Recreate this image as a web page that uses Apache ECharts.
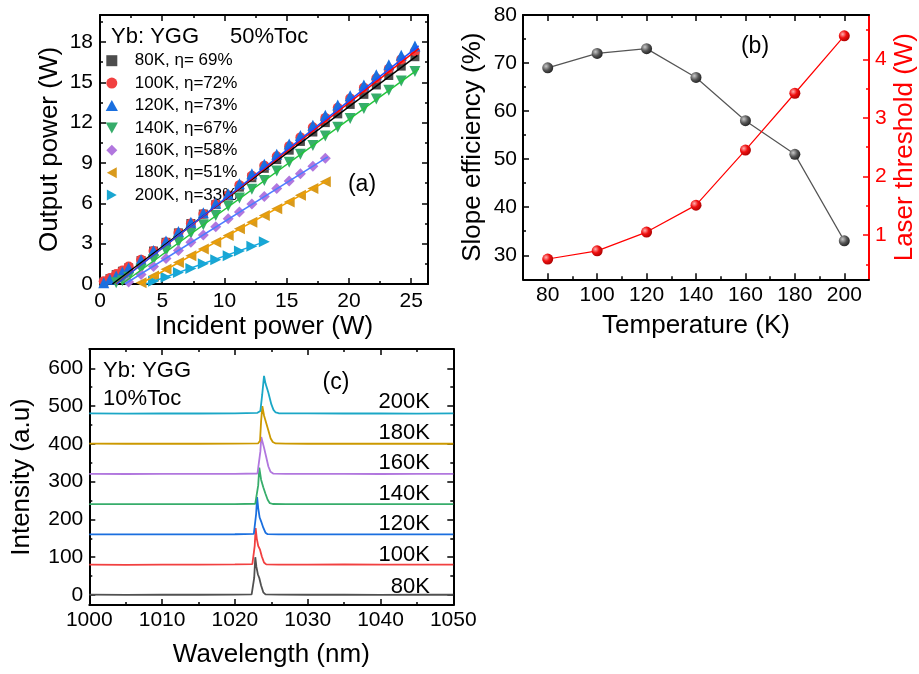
<!DOCTYPE html>
<html><head><meta charset="utf-8">
<script src="https://cdn.jsdelivr.net/npm/echarts@6/dist/echarts.min.js"></script>
<style>html,body{margin:0;padding:0;background:#fff}#c{width:919px;height:674px}</style>
</head><body><div id="c"></div>
<script>
const FONT = '"Liberation Sans", Arial, sans-serif';

// ---------- Panel (a): output power vs incident power ----------
const seriesNamesA = ['80K, η= 69%', '100K, η=72%', '120K, η=73%', '140K, η=67%', '160K, η=58%', '180K, η=51%', '200K, η=33%'];
const inHigh = [0.3,0.8,1.3,1.8,2.3,3.3,4.3,5.3,6.3,7.3,8.3,9.3,10.3,11.2,12.2,13.2,14.2,15.2,16.1,17.1,18.1,19.1,20.1,21.2,22.2,23.2,24.2,25.3];
const out80K  = [0.15,0.4,0.7,0.95,1.2,1.75,2.45,3.1,3.8,4.5,5.2,5.9,6.55,7.2,7.9,8.6,9.25,9.95,10.6,11.3,12.0,12.65,13.35,14.1,14.8,15.5,16.2,16.9];
const out100K = [0.2,0.45,0.75,1.0,1.3,1.8,2.45,3.1,3.8,4.5,5.2,5.95,6.6,7.35,8.05,8.8,9.5,10.25,10.9,11.65,12.35,13.1,13.8,14.6,15.3,16.0,16.7,17.3];
const out120K = [0.1,0.35,0.6,0.9,1.2,1.8,2.5,3.2,3.9,4.6,5.3,6.0,6.7,7.45,8.2,8.9,9.65,10.4,11.05,11.8,12.55,13.3,14.0,14.8,15.55,16.3,17.0,17.7];
const in140K  = [1.3,1.8,2.3,3.3,4.3,5.3,6.3,7.3,8.3,9.3,10.3,11.2,12.2,13.2,14.2,15.2,16.1,17.1,18.1,19.1,20.1,21.2,22.2,23.2,24.2,25.3];
const out140K = [0.1,0.25,0.5,1.1,1.8,2.45,3.1,3.75,4.4,5.1,5.8,6.4,7.05,7.7,8.4,9.05,9.65,10.3,11.0,11.65,12.3,13.05,13.75,14.4,15.1,15.8];
const in160K  = [2.3,3.3,4.3,5.3,6.3,7.3,8.3,9.3,10.3,11.2,12.2,13.2,14.2,15.2,16.1,17.1,18.1];
const out160K = [0.15,0.7,1.3,1.9,2.5,3.1,3.65,4.25,4.85,5.35,5.95,6.5,7.1,7.65,8.2,8.75,9.35];
const in180K  = [3.3,4.3,5.3,6.3,7.3,8.3,9.3,10.3,11.2,12.2,13.2,14.2,15.2,16.1,17.1,18.1];
const out180K = [0.1,0.6,1.1,1.6,2.1,2.6,3.1,3.6,4.1,4.6,5.1,5.6,6.1,6.6,7.1,7.6];
const in200K  = [4.3,5.3,6.3,7.3,8.3,9.3,10.3,11.2,12.2,13.2];
const out200K = [0.2,0.5,0.85,1.15,1.5,1.8,2.1,2.45,2.8,3.15];
// linear fits (endpoints)
const fitX80K = [1.0, 25.5],  fitY80K = [0, 17.0];
const fitX100K = [1.3, 25.6], fitY100K = [0, 17.5];
const fitX120K = [1.35, 25.6], fitY120K = [0, 17.7];
const fitX140K = [1.75, 25.6], fitY140K = [0, 16.0];
const fitX160K = [2.0, 18.3], fitY160K = [0, 9.45];
const fitX180K = [3.2, 18.3], fitY180K = [0, 7.7];
const fitX200K = [3.7, 13.3], fitY200K = [0, 3.17];
const aXTicks = [0,5,10,15,20,25], aXMinor = [2.5,7.5,12.5,17.5,22.5];
const aYTicks = [0,3,6,9,12,15,18], aYMinor = [1.5,4.5,7.5,10.5,13.5,16.5,19.5];

// ---------- Panel (b): slope efficiency & threshold vs temperature ----------
const temperatures = [80,100,120,140,160,180,200];
const slopeEff = [69,72,73,67,58,51,33];
const threshold = [0.59,0.73,1.05,1.51,2.45,3.42,4.40];
const bXTicks = [80,100,120,140,160,180,200], bXMinor = [90,110,130,150,170,190];
const bYTicks = [30,40,50,60,70,80], bYMinor = [35,45,55,65,75];
const bY2Ticks = [1,2,3,4], bY2Minor = [0.5,1.5,2.5,3.5,4.5];

// ---------- Panel (c): emission spectra (offset by 80 per temperature) ----------
const spec80K  = [[1000,0.8],[1005,0.4],[1010,0.9],[1015,0.6],[1020,1.0],[1022.3,1.5],[1022.5,4],[1022.65,45],[1022.8,100],[1022.95,75],[1023.15,55],[1023.35,45],[1023.6,25],[1023.9,7],[1024.2,1.5],[1026,0.8],[1030,0.6],[1035,0.9],[1040,0.5],[1045,0.8],[1050,0.6]];
const spec100K = [[1000,80.5],[1005,79.8],[1010,80.6],[1015,80.2],[1020,80.8],[1022.4,81.5],[1022.6,85],[1022.72,130],[1022.85,177],[1023.0,150],[1023.2,130],[1023.45,120],[1023.7,102],[1024.0,86],[1024.3,81],[1026,80.5],[1030,80.2],[1035,80.7],[1040,80.3],[1045,80.6],[1050,80.2]];
const spec120K = [[1000,160.5],[1005,160.2],[1010,160.6],[1015,160.3],[1020,160.8],[1022.6,161.5],[1022.8,166],[1022.92,215],[1023.05,259],[1023.2,230],[1023.4,205],[1023.6,195],[1023.9,178],[1024.2,165],[1024.5,161],[1026,160.5],[1030,160.3],[1035,160.6],[1040,160.2],[1045,160.5],[1050,160.3]];
const spec140K = [[1000,240.5],[1005,240.2],[1010,240.6],[1015,240.3],[1020,240.7],[1022.8,241.5],[1023.05,246],[1023.2,290],[1023.35,337],[1023.6,305],[1023.9,285],[1024.2,268],[1024.5,252],[1024.8,243],[1025.2,240.8],[1027,240.5],[1030,240.3],[1035,240.6],[1040,240.2],[1045,240.5],[1050,240.3]];
const spec160K = [[1000,320.5],[1005,320.2],[1010,320.6],[1015,320.3],[1020,320.7],[1023.1,321.5],[1023.35,326],[1023.5,380],[1023.62,418],[1023.75,415],[1024.0,390],[1024.3,365],[1024.6,340],[1024.9,326],[1025.3,321],[1027,320.5],[1030,320.3],[1035,320.6],[1040,320.2],[1045,320.5],[1050,320.3]];
const spec180K = [[1000,400.5],[1005,400.2],[1010,400.6],[1015,400.3],[1020,400.7],[1023.2,401.5],[1023.45,408],[1023.6,460],[1023.77,500],[1024.0,475],[1024.3,455],[1024.6,435],[1024.9,415],[1025.2,405],[1025.6,401],[1027,400.5],[1030,400.3],[1035,400.6],[1040,400.2],[1045,400.5],[1050,400.3]];
const spec200K = [[1000,480.5],[1005,480.2],[1010,480.6],[1015,480.3],[1020,480.7],[1023.1,482],[1023.3,484],[1023.5,487],[1023.75,530],[1024.0,580],[1024.2,560],[1024.4,548],[1024.6,535],[1024.8,520],[1025.0,505],[1025.3,490],[1025.6,483],[1026,481],[1030,480.5],[1035,480.3],[1040,480.6],[1045,480.2],[1050,480.4]];
const specLabels = ['80K','100K','120K','140K','160K','180K','200K'];
const cXTicks = [1000,1010,1020,1030,1040,1050], cXMinor = [1005,1015,1025,1035,1045];
const cYTicks = [0,100,200,300,400,500,600], cYMinor = [50,150,250,350,450,550];

// ---------- helpers ----------
function axis(o) {
  const col = o.color || '#000';
  const a = {
    type: 'value', gridIndex: o.g, position: o.pos, min: o.min, max: o.max,
    splitLine: {show: false},
    axisLine: {show: !!o.line, onZero: false, lineStyle: {color: col, width: 2}},
    axisTick: {show: true, inside: true, length: o.len, customValues: o.ticks, lineStyle: {color: col, width: 1.5}},
    axisLabel: o.labels ? {show: true, customValues: o.labels, margin: o.margin, color: col, fontSize: 21, fontFamily: FONT,
      formatter: v => String(v)} : {show: false},
    axisPointer: {show: false}
  };
  if (o.name) {
    a.name = o.name; a.nameLocation = 'middle'; a.nameGap = o.gap; a.nameMoveOverlap = false;
    if (o.rot !== undefined) a.nameRotate = o.rot;
    a.nameTextStyle = {fontSize: 26, color: col, fontFamily: FONT};
  }
  return a;
}
function pairs(xs, ys) { return xs.map((x, i) => [x, ys[i]]); }

const xAxes = [
  axis({g:0,pos:'bottom',min:0,max:26.35,line:true,len:6,ticks:aXTicks,labels:aXTicks,margin:7,name:'Incident power (W)',gap:30}),
  axis({g:0,pos:'bottom',min:0,max:26.35,len:3,ticks:aXMinor}),
  axis({g:0,pos:'top',min:0,max:26.35,line:true,len:6,ticks:aXTicks}),
  axis({g:0,pos:'top',min:0,max:26.35,len:3,ticks:aXMinor}),
  axis({g:1,pos:'bottom',min:70,max:210,line:true,len:6,ticks:bXTicks,labels:bXTicks,margin:5,name:'Temperature (K)',gap:34}),
  axis({g:1,pos:'bottom',min:70,max:210,len:3,ticks:bXMinor}),
  axis({g:1,pos:'top',min:70,max:210,line:true,len:6,ticks:bXTicks}),
  axis({g:1,pos:'top',min:70,max:210,len:3,ticks:bXMinor}),
  axis({g:2,pos:'bottom',min:1000,max:1050,line:true,len:6,ticks:cXTicks,labels:cXTicks,margin:4.5,name:'Wavelength (nm)',gap:37}),
  axis({g:2,pos:'bottom',min:1000,max:1050,len:3,ticks:cXMinor}),
  axis({g:2,pos:'top',min:1000,max:1050,line:true,len:6,ticks:cXTicks}),
  axis({g:2,pos:'top',min:1000,max:1050,len:3,ticks:cXMinor})
];
const yAxes = [
  axis({g:0,pos:'left',min:0,max:20,line:true,len:6,ticks:aYTicks,labels:aYTicks,margin:7,name:'Output power (W)',gap:37,rot:90}),
  axis({g:0,pos:'left',min:0,max:20,len:3,ticks:aYMinor}),
  axis({g:0,pos:'right',min:0,max:20,line:true,len:6,ticks:aYTicks}),
  axis({g:0,pos:'right',min:0,max:20,len:3,ticks:aYMinor}),
  axis({g:1,pos:'left',min:25,max:80,line:true,len:6,ticks:bYTicks,labels:bYTicks,margin:6,name:'Slope efficiency (%)',gap:37,rot:90}),
  axis({g:1,pos:'left',min:25,max:80,len:3,ticks:bYMinor}),
  axis({g:1,pos:'right',min:0.244,max:4.756,line:true,len:6,ticks:bY2Ticks,labels:bY2Ticks,margin:6,color:'#ff0000',name:'Laser threshold (W)',gap:23,rot:90}),
  axis({g:1,pos:'right',min:0.244,max:4.756,len:3,ticks:bY2Minor,color:'#ff0000'}),
  axis({g:2,pos:'left',min:-26.5,max:651,line:true,len:6,ticks:cYTicks,labels:cYTicks,margin:6,name:'Intensity (a.u)',gap:54,rot:90}),
  axis({g:2,pos:'left',min:-26.5,max:651,len:3,ticks:cYMinor}),
  axis({g:2,pos:'right',min:-26.5,max:651,line:true,len:6,ticks:cYTicks}),
  axis({g:2,pos:'right',min:-26.5,max:651,len:3,ticks:cYMinor})
];

const SQUARE = 'path://M0,0 L10,0 L10,10 L0,10 Z';
const DIAMOND = 'path://M5,0 L10,5 L5,10 L0,5 Z';
const DOWN = 'path://M0,0 L10,0 L5,9 Z';
const UP = 'path://M5,0 L10,9 L0,9 Z';
const LEFT = 'path://M9,0 L9,10 L0,5 Z';
const RIGHT = 'path://M0,0 L9,5 L0,10 Z';
const markerColors = ['#4d4d4d','#f14040','#1a6fdf','#37ad6b','#b177de','#d99a1c','#1aa6d1'];
const fitColors = ['#000000','#ff0000','#1a4fff','#22c33a','#4d7cff','#f0a000','#14a8e0'];
const symbols = [SQUARE,'circle',UP,DOWN,DIAMOND,LEFT,RIGHT];
const symSizes = [9,10,11,11,11,11,11];
const scatterData = [pairs(inHigh,out80K),pairs(inHigh,out100K),pairs(inHigh,out120K),pairs(in140K,out140K),pairs(in160K,out160K),pairs(in180K,out180K),pairs(in200K,out200K)];
const fitData = [pairs(fitX80K,fitY80K),pairs(fitX100K,fitY100K),pairs(fitX120K,fitY120K),pairs(fitX140K,fitY140K),pairs(fitX160K,fitY160K),pairs(fitX180K,fitY180K),pairs(fitX200K,fitY200K)];

const series = [];
seriesNamesA.forEach((n, i) => {
  series.push({type:'scatter', name:n, xAxisIndex:0, yAxisIndex:0, symbol:symbols[i], symbolSize:symSizes[i],
    itemStyle:{color:markerColors[i], opacity:1}, data:scatterData[i], z:2+i, silent:true});
});
seriesNamesA.forEach((n, i) => {
  series.push({type:'line', name:'fit '+n, xAxisIndex:0, yAxisIndex:0, symbol:'none', showSymbol:false,
    lineStyle:{color:fitColors[i], width:1.5}, data:fitData[i], z:20, silent:true});
});
const ballGray = {type:'radial', x:0.35, y:0.35, r:0.75, colorStops:[{offset:0,color:'#c8c8c8'},{offset:0.5,color:'#555'},{offset:1,color:'#1a1a1a'}]};
const ballRed = {type:'radial', x:0.35, y:0.35, r:0.75, colorStops:[{offset:0,color:'#ffb0b0'},{offset:0.45,color:'#f01010'},{offset:1,color:'#a00000'}]};
series.push({type:'line', name:'Slope efficiency', xAxisIndex:4, yAxisIndex:4, data:pairs(temperatures,slopeEff),
  symbol:'circle', symbolSize:11, showSymbol:true, itemStyle:{color:ballGray}, lineStyle:{color:'#555', width:1.2}, silent:true, z:5});
series.push({type:'line', name:'Laser threshold', xAxisIndex:4, yAxisIndex:6, data:pairs(temperatures,threshold),
  symbol:'circle', symbolSize:11, showSymbol:true, itemStyle:{color:ballRed}, lineStyle:{color:'#ff0000', width:1.2}, silent:true, z:5});
const specColors = ['#515151','#f14040','#1a6fdf','#37ad6b','#b177de','#cc9900','#1ba7c6'];
[spec80K,spec100K,spec120K,spec140K,spec160K,spec180K,spec200K].forEach((d, i) => {
  series.push({type:'line', name:'spec '+specLabels[i], xAxisIndex:8, yAxisIndex:8, data:d, symbol:'none', showSymbol:false,
    lineStyle:{color:specColors[i], width:1.8}, silent:true, z:5});
});

function txt(text, x, y, size, align, color) {
  return {type:'text', x:x, y:y, silent:true, z:100,
    style:{text:text, font: size + 'px ' + FONT, fill: color || '#000', textAlign: align || 'left', textVerticalAlign:'middle'}};
}
const tempLabelY = [587.3, 555, 524, 494, 463.3, 433.3, 401.7];
const graphics = [
  txt('Yb: YGG', 111, 36.7, 22), txt('50%Toc', 230, 36.7, 22), txt('(a)', 362, 185, 23, 'center'),
  txt('(b)', 755, 46.7, 23, 'center'),
  txt('Yb: YGG', 103, 370.7, 22), txt('10%Toc', 103, 399, 22), txt('(c)', 336, 382.7, 23, 'center')
];
specLabels.forEach((s, i) => graphics.push(txt(s, 430, tempLabelY[i], 22, 'right')));

const chart = echarts.init(document.getElementById('c'), null, {renderer:'canvas'});
chart.setOption({
  animation: false,
  backgroundColor: '#fff',
  textStyle: {fontFamily: FONT},
  grid: [
    {left:100, top:15, width:328, height:269, containLabel:false, outerBoundsMode:'none'},
    {left:523, top:15, width:346, height:264.3, containLabel:false, outerBoundsMode:'none'},
    {left:89.3, top:349, width:364, height:256, containLabel:false, outerBoundsMode:'none'}
  ],
  legend: {data: seriesNamesA, orient:'vertical', left:105.7, top:51.7, itemWidth:36, itemHeight:11, itemGap:4.4,
    selectedMode:false, textStyle:{fontSize:17, lineHeight:18, color:'#000', fontFamily:FONT}, padding:0},
  xAxis: xAxes,
  yAxis: yAxes,
  series: series,
  graphic: graphics
});
</script></body></html>
